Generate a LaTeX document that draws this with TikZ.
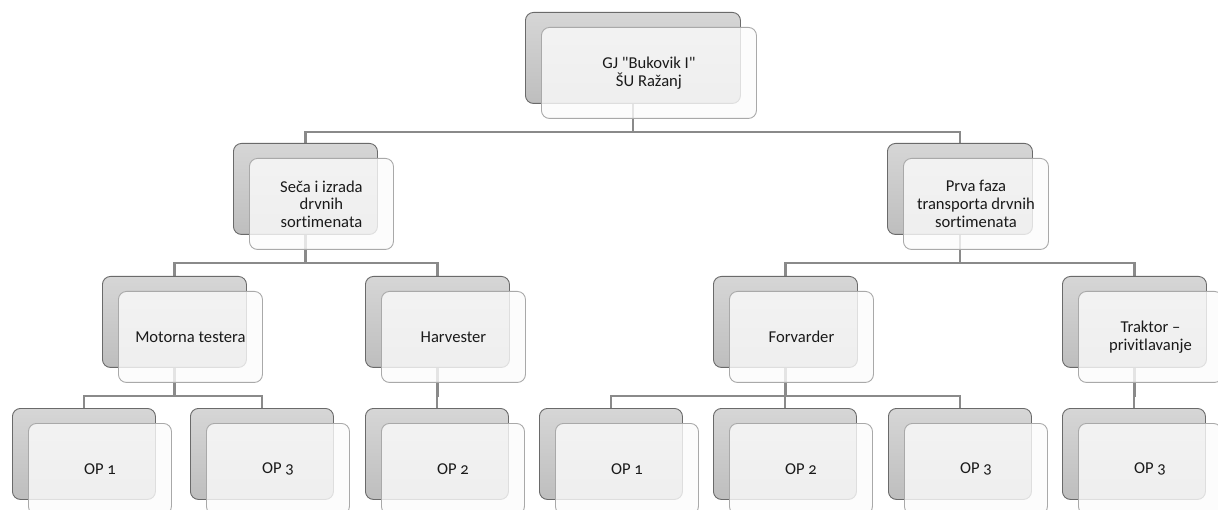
\documentclass[tikz,border=0pt]{standalone}
\usepackage{fontspec}
\setmainfont{Carlito}[Numbers=OldStyle, Ligatures={NoCommon}]
\pgfdeclarelayer{links}
\pgfsetlayers{links,main}
\definecolor{backedge}{HTML}{6A6A6A}
\definecolor{backtop}{HTML}{D6D6D6}
\definecolor{backbot}{HTML}{BEBEBE}
\definecolor{frontedge}{HTML}{A9A9A9}
\definecolor{frontfill}{HTML}{FBFBFB}
\definecolor{linkgray}{HTML}{8A8A8A}
\definecolor{labeltext}{HTML}{1A1A1A}

\tikzset{
  backbox/.style={draw=backedge, line width=0.9pt, rounded corners=8pt,
    top color=backtop, bottom color=backbot, minimum height=91pt,
    inner sep=0pt, anchor=north west},
  frontbox/.style={draw=frontedge, line width=0.9pt, rounded corners=8pt,
    fill=frontfill, fill opacity=0.8, text opacity=1, text=labeltext,
    minimum height=91pt, inner sep=0pt, anchor=north west, align=center,
    font=\fontsize{16.6}{17.6}\selectfont},
  link/.style={draw=linkgray, line width=2.6pt},
}

% a gray card with a translucent white card laid over it
\newcommand\orgitem[5]{%
  \node[backbox, minimum width=#4pt] (#1) at (#2,#3) {};
  \node[frontbox, minimum width=#4pt] (#1f) at ([shift={(16,15)}]#1.north west) {#5};
}

\begin{document}
\begin{tikzpicture}[x=1pt, y=-1pt]
  \useasboundingbox (0,0) rectangle (1218,510);
  \clip (0,0) rectangle (1218,510);

  \orgitem{top}{525}{12}{215}{GJ \textquotedbl Bukovik I\textquotedbl\\ŠU Ražanj}

  \orgitem{s1}{233}{143}{144}{Seča i izrada\\drvnih\\sortimenata}
  \orgitem{s2}{887}{143}{145}{Prva faza\\transporta drvnih\\sortimenata}

  \orgitem{m1}{102}{276}{144}{Motorna testera}
  \orgitem{m2}{365}{276}{144}{Harvester}
  \orgitem{m3}{713}{276}{144}{Forvarder}
  \orgitem{m4}{1062}{276}{144}{Traktor –\\privitlavanje}

  \orgitem{o1}{12}{408}{143}{OP 1}
  \orgitem{o2}{190}{408}{143}{OP 3}
  \orgitem{o3}{365}{408}{143}{OP 2}
  \orgitem{o4}{539}{408}{143}{OP 1}
  \orgitem{o5}{713}{408}{143}{OP 2}
  \orgitem{o6}{888}{408}{143}{OP 3}
  \orgitem{o7}{1062}{408}{143}{OP 3}

  \begin{pgfonlayer}{links}
    \foreach \p/\c in {top/s1, top/s2, s1/m1, s1/m2, s2/m3, s2/m4,
                       m1/o1, m1/o2, m2/o3, m3/o4, m3/o5, m3/o6, m4/o7}
      \draw[link] (\p.south) -- ++(0,28) -| (\c.north);
  \end{pgfonlayer}
\end{tikzpicture}
\end{document}
